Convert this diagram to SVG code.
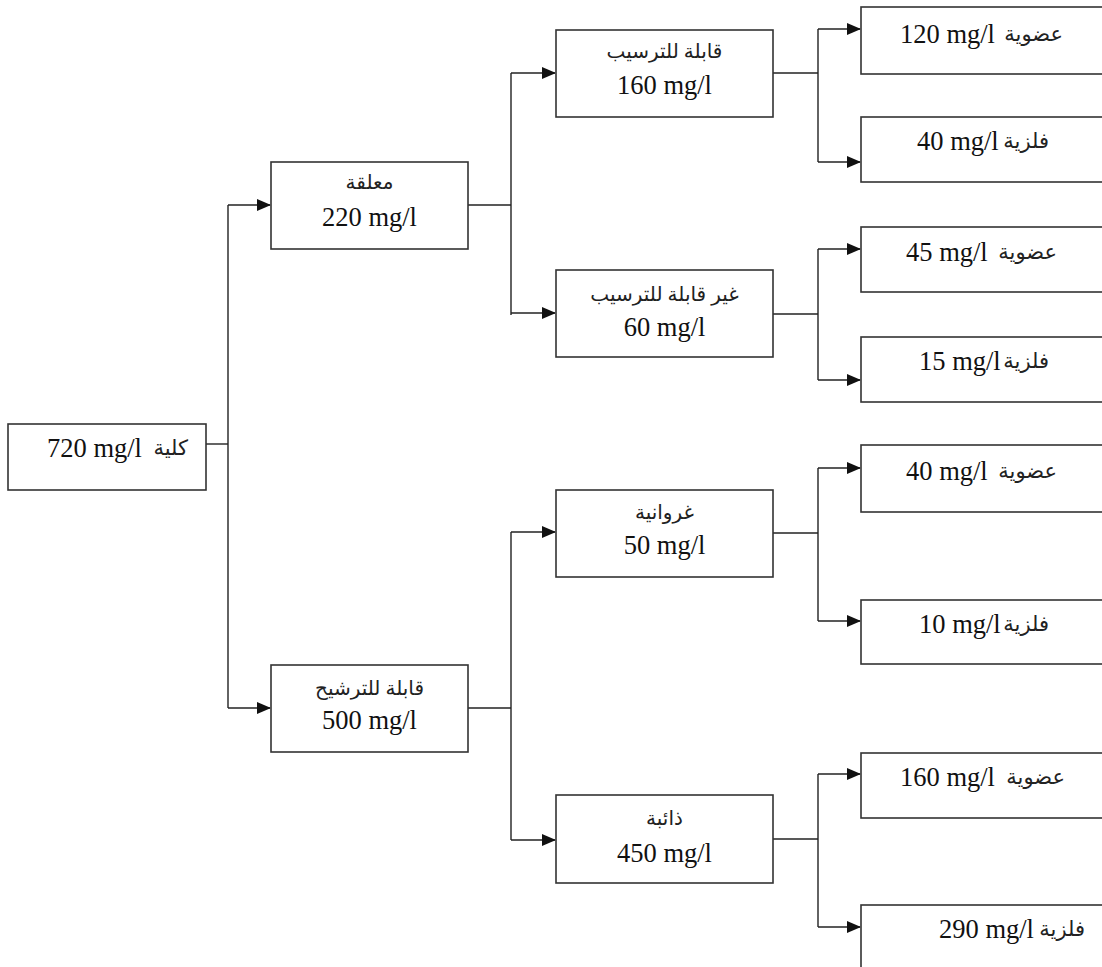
<svg xmlns="http://www.w3.org/2000/svg" width="1102" height="967" viewBox="0 0 1102 967">
<style>
.box{fill:#fff;stroke:#333;stroke-width:1.6}
.ln{fill:none;stroke:#222;stroke-width:1.4}
.num{font-family:"Liberation Serif","Times New Roman",serif;font-size:26.5px;fill:#111}
.ar{font-family:"Liberation Serif","DejaVu Sans",serif;font-size:20px;fill:#222}
.arl{font-family:"Liberation Serif","DejaVu Sans",serif;font-size:21px;fill:#222}
</style>
<defs>
<marker id="ah" markerUnits="userSpaceOnUse" markerWidth="14" markerHeight="12" refX="13" refY="6" orient="auto">
<path d="M0,0 L14,6 L0,12 Z" fill="#111"/>
</marker>
</defs>
<g id="connectors">
<path class="ln" d="M206,444 H228"/>
<path class="ln" d="M228,205 V708"/>
<path class="ln" d="M228,205 H270" marker-end="url(#ah)"/>
<path class="ln" d="M228,708 H270" marker-end="url(#ah)"/>
<path class="ln" d="M468,205 H511"/>
<path class="ln" d="M511,73 V315"/>
<path class="ln" d="M511,73 H555" marker-end="url(#ah)"/>
<path class="ln" d="M511,313 H555" marker-end="url(#ah)"/>
<path class="ln" d="M468,708 H511"/>
<path class="ln" d="M511,532 V840"/>
<path class="ln" d="M511,532 H555" marker-end="url(#ah)"/>
<path class="ln" d="M511,840 H555" marker-end="url(#ah)"/>
<path class="ln" d="M773,73 H818"/>
<path class="ln" d="M818,29 V162"/>
<path class="ln" d="M818,29 H860" marker-end="url(#ah)"/>
<path class="ln" d="M818,162 H860" marker-end="url(#ah)"/>
<path class="ln" d="M773,314 H818"/>
<path class="ln" d="M818,249 V380"/>
<path class="ln" d="M818,249 H860" marker-end="url(#ah)"/>
<path class="ln" d="M818,380 H860" marker-end="url(#ah)"/>
<path class="ln" d="M773,533 H818"/>
<path class="ln" d="M818,468 V621"/>
<path class="ln" d="M818,468 H860" marker-end="url(#ah)"/>
<path class="ln" d="M818,621 H860" marker-end="url(#ah)"/>
<path class="ln" d="M773,839 H818"/>
<path class="ln" d="M818,774 V927"/>
<path class="ln" d="M818,774 H860" marker-end="url(#ah)"/>
<path class="ln" d="M818,927 H860" marker-end="url(#ah)"/>
</g>
<g id="root">
<rect class="box" x="8" y="424" width="198" height="66"/>
<text><tspan class="num" x="47" y="457">720 mg/l</tspan><tspan class="arl" x="188" y="455" text-anchor="end">كلية</tspan></text>
</g>
<g id="suspended">
<rect class="box" x="271" y="162" width="197" height="87"/>
<text class="ar" x="369.5" y="189" text-anchor="middle">معلقة</text>
<text class="num" x="369.5" y="226" text-anchor="middle">220 mg/l</text>
</g>
<g id="filterable">
<rect class="box" x="271" y="665" width="197" height="87"/>
<text class="ar" x="369.5" y="695" text-anchor="middle">قابلة للترشيح</text>
<text class="num" x="369.5" y="729" text-anchor="middle">500 mg/l</text>
</g>
<g id="settleable">
<rect class="box" x="556" y="30" width="217" height="87"/>
<text class="ar" x="664.5" y="58" text-anchor="middle">قابلة للترسيب</text>
<text class="num" x="664.5" y="94" text-anchor="middle">160 mg/l</text>
</g>
<g id="nonsettleable">
<rect class="box" x="556" y="270" width="217" height="87"/>
<text class="ar" x="664.5" y="301" text-anchor="middle">غير قابلة للترسيب</text>
<text class="num" x="664.5" y="336" text-anchor="middle">60 mg/l</text>
</g>
<g id="colloidal">
<rect class="box" x="556" y="490" width="217" height="87"/>
<text class="ar" x="664.5" y="519" text-anchor="middle">غروانية</text>
<text class="num" x="664.5" y="554" text-anchor="middle">50 mg/l</text>
</g>
<g id="dissolved">
<rect class="box" x="556" y="795" width="217" height="88"/>
<text class="ar" x="664.5" y="825" text-anchor="middle">ذائبة</text>
<text class="num" x="664.5" y="862" text-anchor="middle">450 mg/l</text>
</g>
<g id="leaf1">
<rect class="box" x="861" y="7" width="250" height="67"/>
<text><tspan class="num" x="900" y="43">120 mg/l</tspan><tspan class="arl" x="1063" y="41" text-anchor="end">عضوية</tspan></text>
</g>
<g id="leaf2">
<rect class="box" x="861" y="117" width="250" height="65"/>
<text><tspan class="num" x="917" y="150">40 mg/l</tspan><tspan class="arl" x="1049" y="148" text-anchor="end">فلزية</tspan></text>
</g>
<g id="leaf3">
<rect class="box" x="861" y="227" width="250" height="65"/>
<text><tspan class="num" x="906" y="261">45 mg/l</tspan><tspan class="arl" x="1057" y="259" text-anchor="end">عضوية</tspan></text>
</g>
<g id="leaf4">
<rect class="box" x="861" y="337" width="250" height="65"/>
<text><tspan class="num" x="919" y="370">15 mg/l</tspan><tspan class="arl" x="1049" y="368" text-anchor="end">فلزية</tspan></text>
</g>
<g id="leaf5">
<rect class="box" x="861" y="445" width="250" height="67"/>
<text><tspan class="num" x="906" y="480">40 mg/l</tspan><tspan class="arl" x="1057" y="478" text-anchor="end">عضوية</tspan></text>
</g>
<g id="leaf6">
<rect class="box" x="861" y="600" width="250" height="64"/>
<text><tspan class="num" x="919" y="633">10 mg/l</tspan><tspan class="arl" x="1049" y="631" text-anchor="end">فلزية</tspan></text>
</g>
<g id="leaf7">
<rect class="box" x="861" y="753" width="250" height="65"/>
<text><tspan class="num" x="900" y="786">160  mg/l</tspan><tspan class="arl" x="1065" y="784" text-anchor="end">عضوية</tspan></text>
</g>
<g id="leaf8">
<rect class="box" x="861" y="905" width="250" height="80"/>
<text><tspan class="num" x="939" y="938">290 mg/l</tspan><tspan class="arl" x="1085" y="936" text-anchor="end">فلزية</tspan></text>
</g>
</svg>
